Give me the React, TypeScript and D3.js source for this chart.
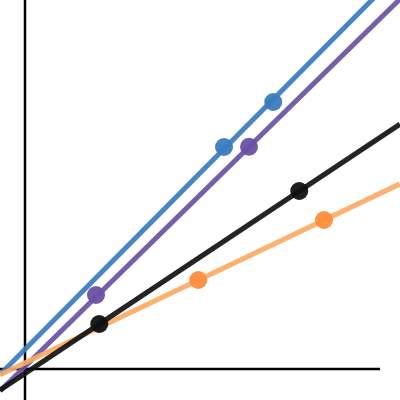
import * as d3 from "d3";

// series (data units, origin at the axis corner)
const groups = ["blue", "purple", "orange", "black"];
const pointX = {
  blue: [7.96, 9.93],
  purple: [2.84, 8.96],
  orange: [6.93, 11.96],
  black: [2.97, 10.97],
};
const pointY = {
  blue: [8.88, 10.68],
  purple: [2.96, 8.89],
  orange: [3.56, 5.96],
  black: [1.8, 7.12],
};
const intercepts = { blue: 0.79, purple: 0.1, orange: 0.25, black: -0.18 };
const slopes = { blue: 1.007, purple: 0.98, orange: 0.477, black: 0.665 };
const lineExtent = [-1, 15];

const lineColors: Record<string, string> = {
  blue: "#3a7bbf",
  purple: "#6a51a3",
  orange: "#fdaa64",
  black: "#111111",
};
const dotColors: Record<string, string> = {
  blue: "#3a7bbf",
  purple: "#6a51a3",
  orange: "#fd8d3c",
  black: "#111111",
};

const width = 400;
const height = 400;

export default function App() {
  const x = d3.scaleLinear().domain([0, 15]).range([25, 400]);
  const y = d3.scaleLinear().domain([0, 15]).range([369, -6]);

  const line = d3
    .line<[number, number]>()
    .x((d) => x(d[0]))
    .y((d) => y(d[1]));

  return (
    <svg
      width={width}
      height={height}
      viewBox={`0 0 ${width} ${height}`}
      style={{ position: "fixed", left: 0, top: 0, background: "#fff" }}
    >
      {/* axes */}
      <line x1={0} x2={380} y1={y(0)} y2={y(0)} stroke="#000" strokeWidth={2.5} />
      <line x1={x(0)} x2={x(0)} y1={0} y2={height} stroke="#000" strokeWidth={2.5} />

      {groups.map((g) => {
        const k = g as keyof typeof slopes;
        const pts: [number, number][] = lineExtent.map((v) => [
          v,
          intercepts[k] + slopes[k] * v,
        ]);
        return (
          <path
            key={g}
            d={line(pts)!}
            fill="none"
            stroke={lineColors[g]}
            strokeWidth={5}
            strokeOpacity={0.92}
          />
        );
      })}

      {groups.map((g) => {
        const k = g as keyof typeof pointX;
        return pointX[k].map((px, i) => (
          <circle
            key={`${g}-${i}`}
            cx={x(px)}
            cy={y(pointY[k][i])}
            r={9}
            fill={dotColors[g]}
            fillOpacity={0.95}
          />
        ));
      })}
    </svg>
  );
}
